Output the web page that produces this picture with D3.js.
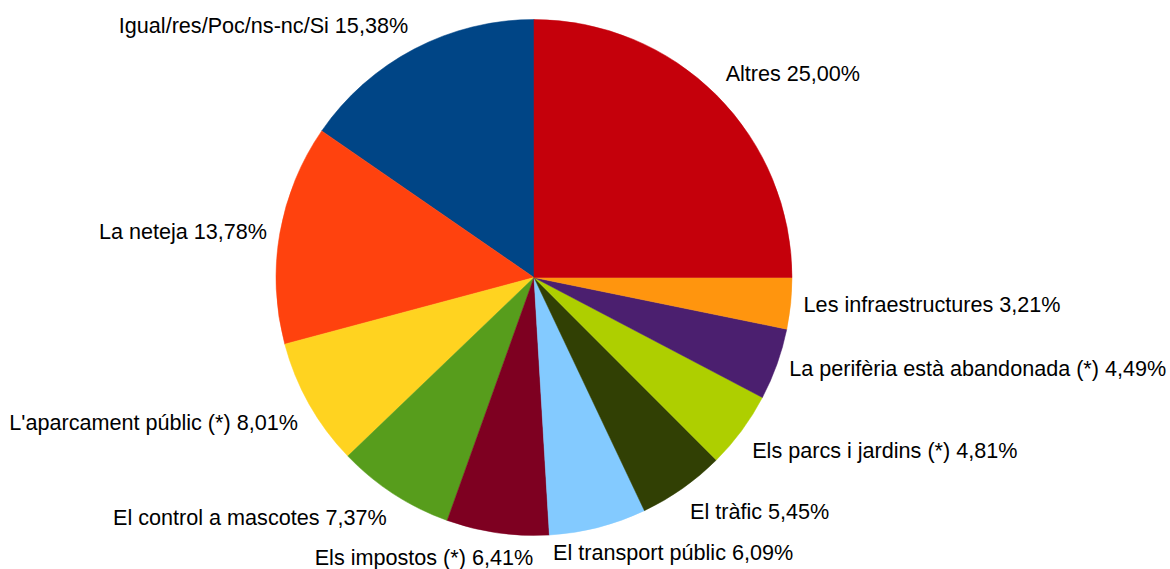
<!DOCTYPE html>
<html>
<head>
<meta charset="utf-8">
<script src="https://cdn.jsdelivr.net/npm/d3@7"></script>
<style>
  html, body { margin: 0; padding: 0; background: #ffffff; }
  svg { display: block; }
</style>
</head>
<body>
<svg id="chart" width="1170" height="569"></svg>
<script>
// ---- data (series order as in the source; drawn counter-clockwise from 12 o'clock)
const categories = [
  "Igual/res/Poc/ns-nc/Si",
  "La neteja",
  "L'aparcament públic (*)",
  "El control a mascotes",
  "Els impostos (*)",
  "El transport públic",
  "El tràfic",
  "Els parcs i jardins (*)",
  "La perifèria està abandonada (*)",
  "Les infraestructures",
  "Altres"
];
const values = [15.38, 13.78, 8.01, 7.37, 6.41, 6.09, 5.45, 4.81, 4.49, 3.21, 25.00];
const colors = ["#004586", "#ff420e", "#ffd320", "#579d1c", "#7e0021", "#83caff",
                "#314004", "#aecf00", "#4b1f6f", "#ff950e", "#c5000b"];

// ---- layout
const W = 1170, H = 569;
const cx = 534, cy = 277.5, R = 258;
const labelR = 271;
const fontSize = 21.6;
const asc = 0.905 * fontSize, desc = 0.212 * fontSize;
const gap = 20;

const svg = d3.select("#chart");
const g = svg.append("g").attr("transform", `translate(${cx},${cy})`);

const pie = d3.pie().sort(null).value(d => d.v).startAngle(0).endAngle(-2 * Math.PI);
const data = categories.map((c, i) => ({ c, v: values[i], col: colors[i] }));
const arcs = pie(data);
const arc = d3.arc().innerRadius(0).outerRadius(R);

g.selectAll("path.slice").data(arcs).enter().append("path")
  .attr("class", "slice")
  .attr("d", arc)
  .attr("fill", d => d.data.col)
  .attr("stroke", d => d.data.col)
  .attr("stroke-width", 0.5);

const fmt = v => v.toFixed(2).replace(".", ",") + "%";

// measure label widths
const measure = svg.append("text")
  .attr("font-family", "'Liberation Sans', Arial, sans-serif")
  .attr("font-size", fontSize);
const labels = arcs.map(d => {
  const text = d.data.c + " " + fmt(d.data.v);
  measure.text(text);
  const w = measure.node().getComputedTextLength();
  const a = (d.startAngle + d.endAngle) / 2;
  const ax = labelR * Math.sin(a), ay = -labelR * Math.cos(a);
  let phi = (90 - a * 180 / Math.PI) % 360; if (phi < 0) phi += 360;
  let hx, vy; // hx: -1 left of anchor, 0 centered, 1 right ; vy: -1 above, 0 middle, 1 below
  if (phi <= 22.5 || phi > 337.5) { hx = 1; vy = 0; }
  else if (phi < 67.5) { hx = 1; vy = -1; }
  else if (phi <= 112.5) { hx = 0; vy = -1; }
  else if (phi <= 157.5) { hx = -1; vy = -1; }
  else if (phi <= 202.5) { hx = -1; vy = 0; }
  else if (phi < 247.5) { hx = -1; vy = 1; }
  else if (phi <= 292.5) { hx = 0; vy = 1; }
  else { hx = 1; vy = 1; }
  let x0 = hx === 1 ? ax : (hx === -1 ? ax - w : ax - w / 2);
  let top = vy === -1 ? ay - (asc + desc) : (vy === 1 ? ay : ay - (asc + desc) / 2);
  return { text, w, x0, top, h: asc + desc };
});
measure.remove();

// resolve horizontal overlaps between labels
for (let iter = 0; iter < 20; iter++) {
  let moved = false;
  for (let i = 0; i < labels.length; i++) {
    for (let j = i + 1; j < labels.length; j++) {
      const A = labels[i], B = labels[j];
      const vOverlap = A.top < B.top + B.h && B.top < A.top + A.h;
      const hOverlap = A.x0 < B.x0 + B.w && B.x0 < A.x0 + A.w;
      if (vOverlap && hOverlap) {
        const left = (A.x0 + A.w / 2 <= B.x0 + B.w / 2) ? A : B;
        const right = left === A ? B : A;
        const ov = left.x0 + left.w - right.x0;
        const shift = (ov + gap) / 2;
        left.x0 -= shift; right.x0 += shift;
        moved = true;
      }
    }
  }
  if (!moved) break;
}

g.selectAll("text.lbl").data(labels).enter().append("text")
  .attr("class", "lbl")
  .attr("x", d => d.x0)
  .attr("y", d => d.top + asc)
  .attr("font-family", "'Liberation Sans', Arial, sans-serif")
  .attr("font-size", fontSize)
  .attr("fill", "#000")
  .text(d => d.text);
</script>
</body>
</html>
